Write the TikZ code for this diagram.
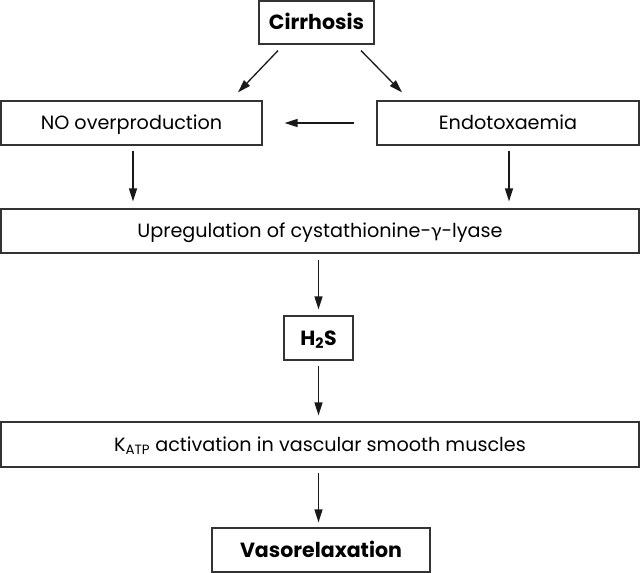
\documentclass[tikz,border=0pt]{standalone}
\usepackage{fontspec}
\setmainfont{Poppins}
\newfontfamily\gfont{Lato}
\usetikzlibrary{arrows.meta}
\begin{document}
\begin{tikzpicture}[x=1pt,y=-1pt,
  box/.style={draw=black!80, line width=1.2pt, inner sep=0pt, text=black,
    text height=13.5pt, text depth=0pt,
    font=\fontsize{19.2}{23}\selectfont},
  boldbox/.style={box, text height=14pt, font=\fontsize{20.5}{25}\selectfont\bfseries},
  arr/.style={draw=black!90, line width=1.3pt, -{Triangle[length=13pt,width=8pt]}}]
\useasboundingbox (0,0) rectangle (640,573);
\node[boldbox, minimum width=115pt, minimum height=43pt] (cir) at (316.5,22.5) {Cirrhosis};
\node[box, minimum width=261pt, minimum height=44pt] (no) at (131.5,123) {NO overproduction};
\node[box, minimum width=262pt, minimum height=44pt] (endo) at (508,123) {Endotoxaemia};
\node[box, minimum width=638pt, minimum height=44pt] (up) at (320,231) {Upregulation of cystathionine-{\gfont γ}-lyase};
\node[boldbox, minimum width=69pt, minimum height=44pt] (h2s) at (318.5,338) {H\textsubscript{2}S};
\node[box, minimum width=638pt, minimum height=45pt] (katp) at (320,444.5) {K\textsubscript{ATP} activation in vascular smooth muscles};
\node[boldbox, minimum width=218pt, minimum height=44pt] (vaso) at (321,550) {Vasorelaxation};
% connectors
\draw[arr] ([xshift=-38.5pt,yshift=-6pt]cir.south) -- ([xshift=106.5pt,yshift=8pt]no.north);
\draw[arr] ([xshift=44.5pt,yshift=-6pt]cir.south) -- ([xshift=-106pt,yshift=8pt]endo.north);
\draw[arr, shorten <=22pt, shorten >=22pt] (endo.west) -- (no.east);
\draw[arr, shorten <=5pt, shorten >=7pt] ([xshift=1.5pt]no.south) -- ([xshift=1.5pt]no.south |- up.north);
\draw[arr, shorten <=5pt, shorten >=7pt] ([xshift=1pt]endo.south) -- ([xshift=1pt]endo.south |- up.north);
\draw[arr, shorten <=6pt, shorten >=6pt] (h2s.north |- up.south) -- (h2s.north);
\draw[arr, shorten <=5pt, shorten >=6pt] (h2s.south) -- (h2s.south |- katp.north);
\draw[arr, shorten <=5pt, shorten >=5pt] (h2s.south |- katp.south) -- (h2s.south |- vaso.north);
\end{tikzpicture}
\end{document}
